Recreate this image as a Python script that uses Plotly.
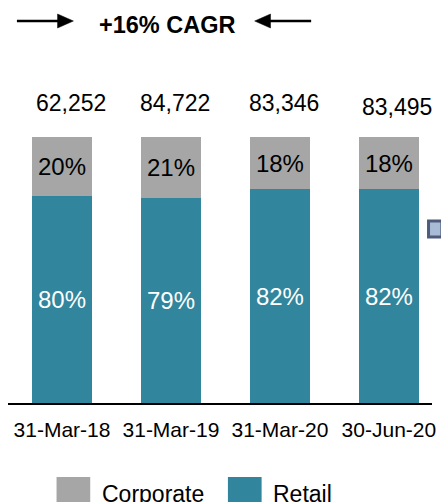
import plotly.graph_objects as go

# ---- data ----
categories = ["31-Mar-18", "31-Mar-19", "31-Mar-20", "30-Jun-20"]
totals = ["62,252", "84,722", "83,346", "83,495"]
corporate_share = [22.3, 23.1, 19.8, 19.8]   # drawn segment height (% of bar)
retail_share = [77.7, 76.9, 80.2, 80.2]
corporate_labels = ["20%", "21%", "18%", "18%"]
retail_labels = ["80%", "79%", "82%", "82%"]
title_text = "+16% CAGR"

# ---- styles ----
W, H = 441, 502
ML, MR, MT, MB = 8, 5, 80, 99
PW, PH = W - ML - MR, H - MT - MB
FONT = "Liberation Sans, Arial, sans-serif"
GREY = "#A6A6A6"
TEAL = "#31859C"
label_dx = [9, 4, 4, 8]
label_dy = [34, 34, 34, 30]


def px(p):
    return (p - ML) / PW


def py(p):
    return (H - MB - p) / PH


fig = go.Figure()
fig.add_trace(go.Bar(
    x=categories, y=retail_share, name="Retail", marker_color=TEAL,
    marker_line_width=0, text=retail_labels, textposition="inside",
    insidetextanchor="middle", textangle=0,
    textfont=dict(family=FONT, size=24, color="white"),
    showlegend=False, hoverinfo="skip"))
fig.add_trace(go.Bar(
    x=categories, y=corporate_share, name="Corporate", marker_color=GREY,
    marker_line_width=0, text=corporate_labels, textposition="inside",
    insidetextanchor="middle", textangle=0,
    textfont=dict(family=FONT, size=24, color="black"),
    showlegend=False, hoverinfo="skip"))

annotations = []
for i, (c, t) in enumerate(zip(categories, totals)):
    annotations.append(dict(x=c, y=100, xref="x", yref="y", text=t,
                            showarrow=False, yanchor="middle",
                            xshift=label_dx[i], yshift=label_dy[i],
                            font=dict(family=FONT, size=23, color="black")))

annotations.append(dict(x=px(169), y=py(25), xref="paper", yref="paper",
                        text="<b>" + title_text + "</b>", showarrow=False,
                        xanchor="center", yanchor="middle",
                        font=dict(family=FONT, size=23.5, color="black")))
annotations.append(dict(x=px(101), y=py(494), xref="paper", yref="paper",
                        text="Corporate", showarrow=False, xanchor="left",
                        yanchor="middle",
                        font=dict(family=FONT, size=23, color="black")))
annotations.append(dict(x=px(273), y=py(494), xref="paper", yref="paper",
                        text="Retail", showarrow=False, xanchor="left",
                        yanchor="middle",
                        font=dict(family=FONT, size=23, color="black")))

shapes = []
# arrows
shapes.append(dict(type="line", xref="paper", yref="paper",
                   x0=px(17), x1=px(62), y0=py(21), y1=py(21),
                   line=dict(color="black", width=2.5)))
shapes.append(dict(type="path", xref="paper", yref="paper",
                   path=f"M{px(58)},{py(14)} L{px(74)},{py(21)} L{px(58)},{py(28)} Z",
                   fillcolor="black", line=dict(color="black", width=0.5)))
shapes.append(dict(type="line", xref="paper", yref="paper",
                   x0=px(270), x1=px(314), y0=py(21), y1=py(21),
                   line=dict(color="black", width=2.5)))
shapes.append(dict(type="path", xref="paper", yref="paper",
                   path=f"M{px(273)},{py(14)} L{px(257)},{py(21)} L{px(273)},{py(28)} Z",
                   fillcolor="black", line=dict(color="black", width=0.5)))
# legend squares
shapes.append(dict(type="rect", xref="paper", yref="paper",
                   x0=px(57), x1=px(91), y0=py(477), y1=py(510),
                   fillcolor=GREY, line=dict(width=0)))
shapes.append(dict(type="rect", xref="paper", yref="paper",
                   x0=px(230), x1=px(264), y0=py(477), y1=py(510),
                   fillcolor=TEAL, line=dict(width=0)))
# small cut-off marker at right edge
shapes.append(dict(type="rect", xref="paper", yref="paper",
                   x0=px(432.5), x1=px(446), y0=py(221), y1=py(237),
                   fillcolor="#A9BCD6", line=dict(color="#4F5B7B", width=3)))

fig.update_layout(
    width=W, height=H,
    margin=dict(l=ML, r=MR, t=MT, b=MB, pad=0),
    barmode="stack", bargap=0.445,
    plot_bgcolor="white", paper_bgcolor="white",
    font=dict(family=FONT, size=21, color="black"),
    xaxis=dict(type="category", range=[-0.4955, 3.3955], showline=True,
               linecolor="black", linewidth=2, showgrid=False, zeroline=False,
               ticks="outside", ticklen=7, tickcolor="rgba(0,0,0,0)",
               tickfont=dict(family=FONT, size=21, color="black")),
    yaxis=dict(range=[0, 121.3], visible=False, showgrid=False,
               zeroline=False),
    annotations=annotations, shapes=shapes, showlegend=False,
    uniformtext=dict(mode=False),
)

fig.write_html(
    "out.html",
    config={"displayModeBar": False},
    post_script="document.body.style.margin='0';"
                "document.body.style.overflow='hidden';",
)
